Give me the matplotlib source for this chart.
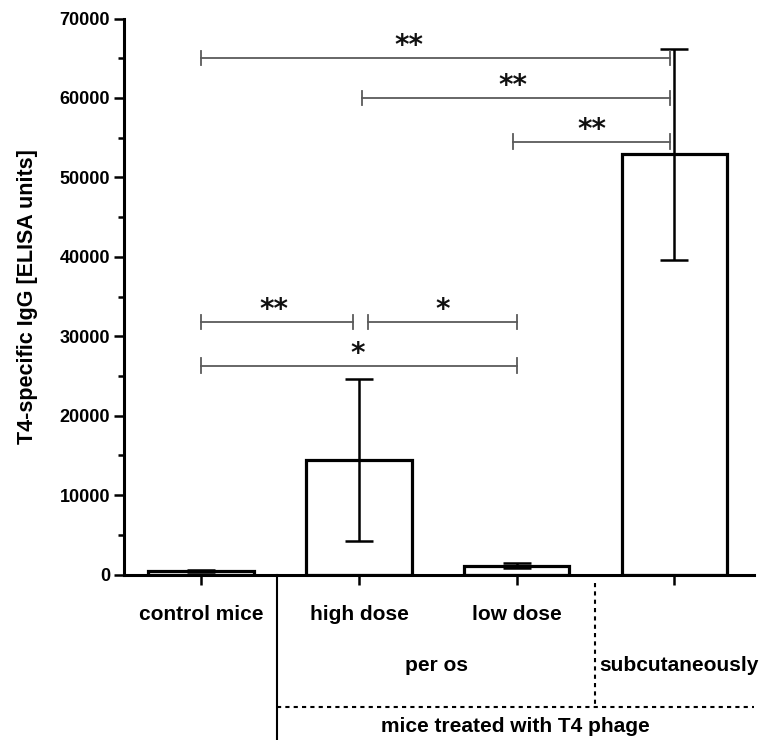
import numpy as np
import matplotlib.pyplot as plt

# data
groups = ['control mice', 'high dose', 'low dose', 'subcutaneously']
means = [450, 14450, 1100, 52900]
errors = [100, 10200, 320, 13300]

# significance brackets: (x from, x to, height, star x, label)
sig_x1 = [0, 1.02, 1.98, 0, 1.06, 0]
sig_x2 = [2.97, 2.97, 2.97, 0.96, 2.0, 2.0]
sig_y = [65000, 60000, 54500, 31800, 31800, 26300]
sig_tx = [1.32, 1.975, 2.48, 0.46, 1.53, 0.99]
sig_lab = ['**', '**', '**', '**', '*', '*']

plt.rcParams['font.family'] = ['Liberation Sans', 'DejaVu Sans']
plt.rcParams['font.weight'] = 'bold'

fig = plt.figure(figsize=(7.67, 7.40), dpi=100)
ax = fig.add_axes([0.1617, 0.2236, 0.8213, 0.7514])

x = np.arange(len(groups))
ax.bar(x, means, width=0.67, color='white', edgecolor='black', linewidth=2.3, zorder=2)
ax.errorbar(x, means, yerr=errors, fmt='none', ecolor='black', elinewidth=1.8,
            capsize=10, capthick=1.8, zorder=3)

# significance lines
for x1, x2, y, tx, lab in zip(sig_x1, sig_x2, sig_y, sig_tx, sig_lab):
    ax.plot([x1, x2], [y, y], color='#5a5a5a', lw=1.3, zorder=4)
    ax.plot([x1, x1], [y - 900, y + 900], color='#5a5a5a', lw=1.3, zorder=4)
    ax.plot([x2, x2], [y - 900, y + 900], color='#5a5a5a', lw=1.3, zorder=4)
    ax.text(tx, y + 1500, lab, ha='center', va='center', fontsize=20,
            fontweight='bold', family='DejaVu Sans', color='#111111')

ax.set_xlim(-0.49, 3.505)
ax.set_ylim(0, 70000)
ax.set_yticks(np.arange(0, 70001, 10000))
ax.set_yticks(np.arange(5000, 70000, 10000), minor=True)
ax.set_xticks(x)
ax.set_xticklabels(['control mice', 'high dose', 'low dose', ''])
ax.tick_params(axis='x', length=7, width=1.8, pad=15, labelsize=15)
ax.tick_params(axis='y', which='major', length=7, width=1.8, pad=3, labelsize=13)
ax.tick_params(axis='y', which='minor', length=4, width=1.8)

for s in ['top', 'right']:
    ax.spines[s].set_visible(False)
for s in ['left', 'bottom']:
    ax.spines[s].set_linewidth(2.2)

ax.set_ylabel('T4-specific IgG [ELISA units]', fontsize=15.5, fontweight='bold')
ax.yaxis.set_label_coords(-0.1365, 0.5)

# grouping annotations below the axis
tr = ax.get_xaxis_transform()
ax.plot([0.48, 0.48], [0, -0.3], color='black', lw=1.5, transform=tr, clip_on=False)
ax.plot([2.495, 2.495], [-0.015, -0.238], color='black', lw=1.5, ls=(0, (2, 2)),
        transform=tr, clip_on=False)
ax.plot([0.48, 3.505], [-0.238, -0.238], color='black', lw=1.5, ls=(0, (2, 2)),
        transform=tr, clip_on=False)
ax.text(1.49, -0.163, 'per os', ha='center', va='center', fontsize=15, transform=tr)
ax.text(3.03, -0.163, 'subcutaneously', ha='center', va='center', fontsize=15, transform=tr)
ax.text(1.99, -0.2725, 'mice treated with T4 phage', ha='center', va='center', fontsize=15,
        transform=tr)

fig.savefig('out.png', dpi=100)
